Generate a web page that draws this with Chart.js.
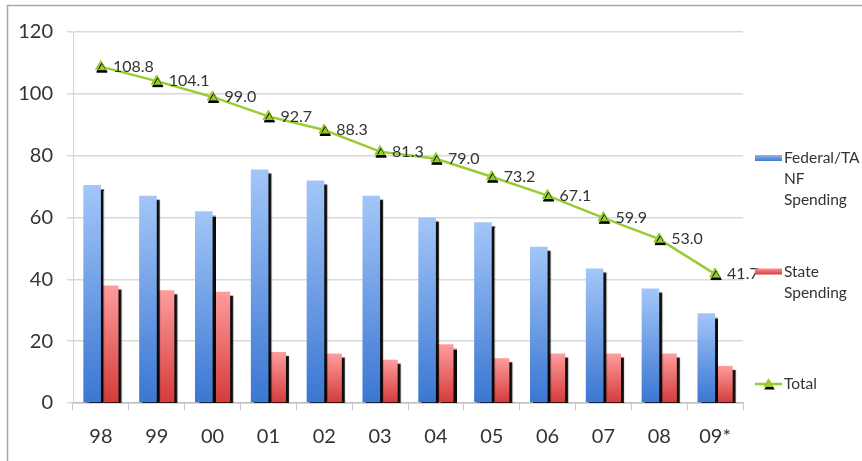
<!DOCTYPE html>
<html>
<head>
<meta charset="utf-8">
<script src="https://cdn.jsdelivr.net/npm/chart.js@4/dist/chart.umd.min.js"></script>
<style>
  html, body { margin: 0; padding: 0; background: #ffffff; }
  #wrap { width: 862px; height: 461px; position: relative; }
</style>
</head>
<body>
<div id="wrap"><canvas id="c" width="862" height="461"></canvas></div>
<script>
// ---- data ----
const categories = ['98', '99', '00', '01', '02', '03', '04', '05', '06', '07', '08', '09*'];
const federalSpending = [70.5, 67, 62, 75.5, 72, 67, 60, 58.5, 50.5, 43.5, 37, 29];
const stateSpending = [38, 36.5, 36, 16.5, 16, 14, 19, 14.5, 16, 16, 16, 12];
const totalSpending = [108.8, 104.1, 99.0, 92.7, 88.3, 81.3, 79.0, 73.2, 67.1, 59.9, 53.0, 41.7];
const seriesNames = ['Federal/TA NF Spending', 'State Spending', 'Total'];
const legendLines = [['Federal/TA', 'NF', 'Spending'], ['State', 'Spending'], ['Total']];
const yTicks = [0, 20, 40, 60, 80, 100, 120];

const FONT = 'Lato, "Open Sans", "DejaVu Sans", sans-serif';
const TEXT = '#333333';
const GREEN = '#99cc33';

function barGradient(top, bottom) {
  return function (ctx) {
    const chart = ctx.chart;
    const area = chart.chartArea;
    if (!area || ctx.type !== 'data') return bottom;
    const y = chart.scales.y;
    const y0 = y.getPixelForValue(ctx.raw);
    const y1 = y.getPixelForValue(0);
    const g = chart.ctx.createLinearGradient(0, y0, 0, y1);
    g.addColorStop(0, top);
    g.addColorStop(1, bottom);
    return g;
  };
}

const framePlugin = {
  id: 'frame',
  beforeDraw(chart) {
    const c = chart.ctx;
    c.save();
    c.fillStyle = '#ffffff';
    c.fillRect(0, 0, chart.width, chart.height);
    c.strokeStyle = '#a8a8a8';
    c.lineWidth = 1.5;
    c.beginPath();
    c.moveTo(7.5, chart.height);
    c.lineTo(7.5, 5.5);
    c.lineTo(chart.width, 5.5);
    c.stroke();
    c.restore();
  }
};

const shadowPlugin = {
  id: 'barShadow',
  beforeDatasetDraw(chart, args) {
    if (args.meta.type !== 'bar') return;
    const c = chart.ctx;
    c.save();
    c.shadowColor = 'rgba(0,0,0,0.95)';
    c.shadowOffsetX = 3;
    c.shadowOffsetY = 4;
    c.shadowBlur = 1;
  },
  afterDatasetDraw(chart, args) {
    if (args.meta.type !== 'bar') return;
    chart.ctx.restore();
  }
};

const labelPlugin = {
  id: 'totalLabels',
  afterDatasetsDraw(chart) {
    const c = chart.ctx;
    const meta = chart.getDatasetMeta(2);
    // redraw markers with black drop shadow
    c.save();
    c.shadowColor = 'rgba(0,0,0,1)';
    c.shadowOffsetX = 1;
    c.shadowOffsetY = 2.5;
    c.shadowBlur = 0.5;
    meta.data.forEach(p => p.draw(c, chart.chartArea));
    c.restore();
    // value labels
    c.save();
    c.font = '16px ' + FONT;
    c.fillStyle = TEXT;
    c.textAlign = 'left';
    c.textBaseline = 'middle';
    meta.data.forEach((p, i) => {
      c.fillText(totalSpending[i].toFixed(1), p.x + 12, p.y);
    });
    c.restore();
  }
};

const legendPlugin = {
  id: 'sideLegend',
  afterDraw(chart) {
    const c = chart.ctx;
    const area = chart.chartArea;
    const x0 = area.right + 12;
    const tx = x0 + 29;
    const lineH = 21;
    const centers = [179, 282, 384];
    c.save();
    c.font = '15.5px ' + FONT;
    c.fillStyle = TEXT;
    c.textBaseline = 'middle';
    legendLines.forEach((lines, i) => {
      const firstY = centers[i] - (lines.length - 1) * lineH / 2;
      // marker
      if (i < 2) {
        const g = c.createLinearGradient(0, firstY - 3, 0, firstY + 3);
        g.addColorStop(0, i === 0 ? '#8fb6ef' : '#ff8f8f');
        g.addColorStop(1, i === 0 ? '#3f78d2' : '#d83c3c');
        c.fillStyle = g;
        c.fillRect(x0, firstY - 3, 27, 6);
      } else {
        c.strokeStyle = GREEN;
        c.lineWidth = 2.5;
        c.beginPath();
        c.moveTo(x0, firstY);
        c.lineTo(x0 + 27, firstY);
        c.stroke();
        const r = 6;
        const cx = x0 + 13.5;
        c.save();
        c.shadowColor = 'black';
        c.shadowOffsetX = 1;
        c.shadowOffsetY = 2.5;
        c.fillStyle = GREEN;
        c.beginPath();
        c.moveTo(cx, firstY - r);
        c.lineTo(cx + r * 0.87, firstY + r * 0.5);
        c.lineTo(cx - r * 0.87, firstY + r * 0.5);
        c.closePath();
        c.fill();
        c.restore();
      }
      c.fillStyle = TEXT;
      lines.forEach((t, k) => c.fillText(t, tx, firstY + k * lineH));
    });
    c.restore();
  }
};

new Chart(document.getElementById('c'), {
  type: 'bar',
  data: {
    labels: categories,
    datasets: [
      {
        label: seriesNames[0],
        data: federalSpending,
        backgroundColor: barGradient('#a3c6f8', '#3a76d2'),
        categoryPercentage: 0.63,
        barPercentage: 1.0,
        order: 2
      },
      {
        label: seriesNames[1],
        data: stateSpending,
        backgroundColor: barGradient('#ff9d9d', '#d43a3a'),
        categoryPercentage: 0.63,
        barPercentage: 1.0,
        order: 2
      },
      {
        type: 'line',
        label: seriesNames[2],
        data: totalSpending,
        borderColor: GREEN,
        backgroundColor: GREEN,
        borderWidth: 2.5,
        pointStyle: 'triangle',
        pointRadius: 6,
        pointBackgroundColor: GREEN,
        pointBorderColor: GREEN,
        pointBorderWidth: 1,
        tension: 0,
        order: 1
      }
    ]
  },
  options: {
    responsive: false,
    animation: false,
    devicePixelRatio: 1,
    layout: { padding: { top: 32, right: 119, left: 0, bottom: 0 } },
    plugins: {
      legend: { display: false },
      tooltip: { enabled: false }
    },
    scales: {
      x: {
        offset: true,
        grid: {
          display: true,
          offset: true,
          drawOnChartArea: false,
          drawTicks: true,
          tickLength: 7,
          color: '#c8c8c8',
          lineWidth: 1
        },
        border: { display: true, color: '#bfbfbf', width: 1.5 },
        ticks: {
          font: { family: FONT, size: 20 },
          color: TEXT,
          padding: 15,
          maxRotation: 0,
          autoSkip: false
        },
        afterFit(scale) { scale.height = 58; }
      },
      y: {
        min: 0,
        max: 120,
        afterBuildTicks(scale) { scale.ticks = yTicks.map(v => ({ value: v })); },
        grid: {
          color: '#d9d9d9',
          lineWidth: 1.5,
          drawTicks: true,
          tickLength: 6
        },
        border: { display: true, color: '#d4d4d4', width: 1 },
        ticks: {
          font: { family: FONT, size: 20 },
          color: TEXT,
          padding: 14
        },
        afterFit(scale) { scale.width = 73; }
      }
    }
  },
  plugins: [framePlugin, shadowPlugin, labelPlugin, legendPlugin]
});
</script>
</body>
</html>
